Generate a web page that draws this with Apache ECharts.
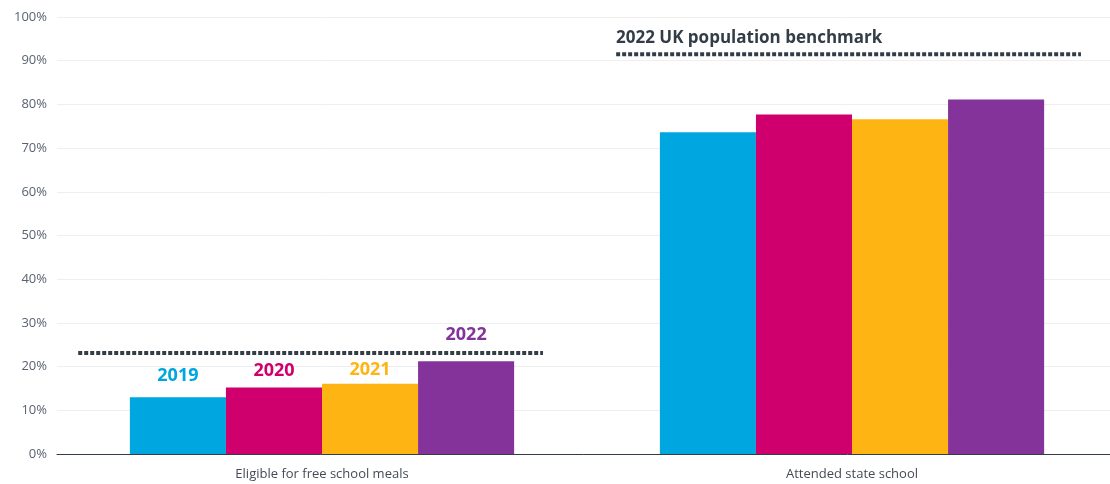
<!DOCTYPE html>
<html>
<head>
<meta charset="utf-8">
<script src="https://cdn.jsdelivr.net/npm/echarts@6/dist/echarts.min.js"></script>
<style>html,body{margin:0;padding:0;background:#fff}#c{width:1110px;height:484px}</style>
</head>
<body>
<div id="c"></div>
<script>
const categories = ['Eligible for free school meals', 'Attended state school'];
const years = ['2019', '2020', '2021', '2022'];
const v2019 = [13.0, 73.6];
const v2020 = [15.2, 77.7];
const v2021 = [16.1, 76.6];
const v2022 = [21.2, 81.1];
const benchmark = [23.1, 91.5];
const benchmarkTitle = '2022 UK population benchmark';
const yTicks = [0, 10, 20, 30, 40, 50, 60, 70, 80, 90, 100];
const colors = ['#00a6df', '#cf006e', '#feb514', '#833399'];
const seriesValues = [v2019, v2020, v2021, v2022];
const labelDistances = [12, 8, 5, 17];
const FONT = '"Open Sans", "Noto Sans", sans-serif';

const chart = echarts.init(document.getElementById('c'), null, {renderer: 'canvas'});

const barSeries = years.map((y, i) => ({
  name: y,
  type: 'bar',
  xAxisIndex: 0,
  yAxisIndex: 0,
  barGap: '0%',
  barCategoryGap: '27.5%',
  itemStyle: {color: colors[i]},
  data: seriesValues[i].map((v, j) => ({
    value: v,
    label: {
      show: j === 0,
      position: 'top',
      distance: labelDistances[i],
      formatter: y,
      color: colors[i],
      fontWeight: 'bold',
      fontSize: 18,
      fontFamily: FONT
    }
  }))
}));

// benchmark lines span most of each category band (in band units on a hidden value axis)
const spans = [[0.040, 0.917], [1.055, 1.932]];
const benchData = [];
benchmark.forEach((b, j) => {
  benchData.push([spans[j][0], b], [spans[j][1], b]);
  if (j < benchmark.length - 1) benchData.push([(spans[j][1] + spans[j + 1][0]) / 2, null]);
});

const option = {
  animation: false,
  textStyle: {fontFamily: FONT},
  grid: {left: 57, width: 1060, top: 17, bottom: 30, containLabel: false, outerBoundsMode: 'none'},
  title: {
    text: benchmarkTitle,
    left: 611, top: 25,
    textStyle: {fontFamily: FONT, fontWeight: 'bold', fontSize: 17, color: '#333d47'}
  },
  xAxis: [{
    type: 'category',
    data: categories,
    axisTick: {show: false},
    axisLine: {lineStyle: {color: '#333d47', width: 1}},
    axisLabel: {color: '#444b55', fontSize: 13, margin: 14, fontFamily: FONT}
  }, {
    type: 'value', min: 0, max: 2, show: false
  }],
  yAxis: [{
    type: 'value', min: 0, max: 100, interval: 10,
    axisLabel: {formatter: v => yTicks.includes(v) ? v + '%' : '', color: '#5a6270', fontSize: 13, margin: 10, fontFamily: FONT},
    axisLine: {show: false},
    axisTick: {show: false},
    splitLine: {lineStyle: {color: '#eeeeee', width: 1}}
  }],
  series: barSeries.concat([{
    type: 'line',
    xAxisIndex: 1,
    yAxisIndex: 0,
    data: benchData,
    symbol: 'none',
    connectNulls: false,
    lineStyle: {color: '#333d47', width: 4, type: [4, 2], cap: 'butt'},
    z: 5
  }])
};
chart.setOption(option);
</script>
</body>
</html>
